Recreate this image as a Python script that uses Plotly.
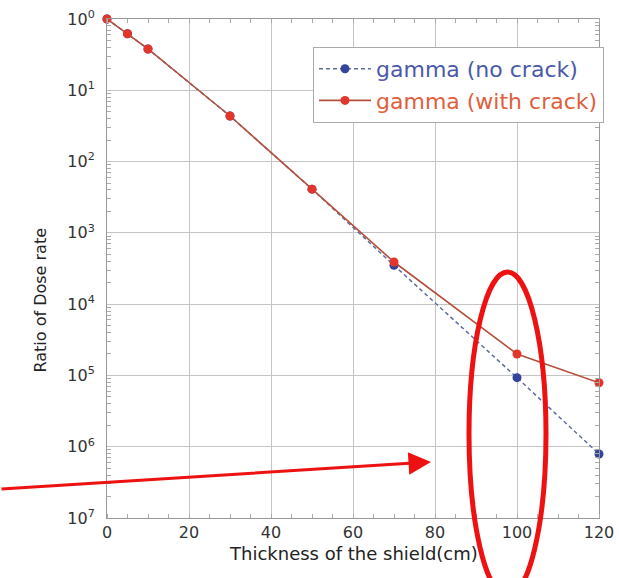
import plotly.graph_objects as go

# ---- data ----
thickness_cm = [0, 5, 10, 30, 50, 70, 100, 120]
ratio_no_crack = [1.0, 0.62, 0.38, 0.0436, 0.0041, 3.5e-4, 9.3e-6, 7.9e-7]
ratio_with_crack = [1.0, 0.62, 0.38, 0.0436, 0.0041, 3.9e-4, 2.0e-5, 7.9e-6]

y_tick_vals = [1, 1e-1, 1e-2, 1e-3, 1e-4, 1e-5, 1e-6, 1e-7]
y_tick_text = ["10<sup>0</sup>", "10<sup>1</sup>", "10<sup>2</sup>", "10<sup>3</sup>",
               "10<sup>4</sup>", "10<sup>5</sup>", "10<sup>6</sup>", "10<sup>7</sup>"]
x_tick_vals = [0, 20, 40, 60, 80, 100, 120]
y_minor_vals = [m * 10.0 ** e for e in range(-7, 0) for m in range(2, 10)]

W, H = 619, 578
PLOT_X0, PLOT_X1 = 107, 599      # pixels of x=0 and x=120
PLOT_Y0, PLOT_Y1 = 19, 518       # pixels of 1e0 and 1e-7
L, T = PLOT_X0, PLOT_Y0
PW, PH = PLOT_X1 - PLOT_X0, PLOT_Y1 - PLOT_Y0
R, B = W - L - PW, H - T - PH


def px(x):
    return (x - PLOT_X0) / PW


def py(y):
    return (PLOT_Y1 - y) / PH


FONT = "DejaVu Sans, Arial, sans-serif"

fig = go.Figure()
fig.add_trace(go.Scatter(
    x=thickness_cm, y=ratio_no_crack, mode="lines+markers",
    name='<span style="color:#4a5aa8">gamma (no crack)</span>',
    line=dict(color="#5d6d9e", width=1.5, dash="4px,3px"),
    marker=dict(color="#33449a", size=9),
    cliponaxis=False,
))
fig.add_trace(go.Scatter(
    x=thickness_cm, y=ratio_with_crack, mode="lines+markers",
    name='<span style="color:#e0603c">gamma (with crack)</span>',
    line=dict(color="#b5503e", width=1.6),
    marker=dict(color="#e2352b", size=9),
    cliponaxis=False,
))

fig.update_layout(
    width=W, height=H,
    margin=dict(l=L, r=R, t=T, b=B, autoexpand=False),
    paper_bgcolor="white", plot_bgcolor="white",
    font=dict(family=FONT, color="#333333"),
    showlegend=True,
    legend=dict(
        x=px(313), y=py(47), xanchor="left", yanchor="top",
        bgcolor="white", bordercolor="#aaaaaa", borderwidth=1,
        font=dict(size=22, family=FONT),
        itemwidth=52,
    ),
    xaxis=dict(
        range=[0, 120], tickmode="array", tickvals=x_tick_vals,
        showgrid=True, gridcolor="#c4c4c4", gridwidth=1,
        showline=True, linecolor="#999999", linewidth=1, mirror="allticks",
        ticks="", tickfont=dict(size=16, color="#333333"),
        ticklabeloverflow="allow",
        minor=dict(dtick=5, ticks="inside", ticklen=4, tickcolor="#aaaaaa", showgrid=False),
        zeroline=False, automargin=False,
    ),
    yaxis=dict(
        type="log", range=[-7, 0], tickmode="array",
        tickvals=y_tick_vals, ticktext=y_tick_text,
        showgrid=True, gridcolor="#c4c4c4", gridwidth=1,
        showline=True, linecolor="#999999", linewidth=1, mirror="allticks",
        ticks="", tickfont=dict(size=16, color="#333333"),
        ticklabelstandoff=8, ticklabeloverflow="allow",
        minor=dict(tickmode="array", tickvals=y_minor_vals, ticks="inside", ticklen=4,
                   tickcolor="#aaaaaa", showgrid=False),
        zeroline=False, automargin=False,
    ),
    annotations=[
        dict(text="Thickness of the shield(cm)", xref="paper", yref="paper",
             x=px(353), y=py(566), showarrow=False, font=dict(size=18, color="#222222")),
        dict(text="Ratio of Dose rate", xref="paper", yref="paper",
             x=px(28), y=py(300), textangle=-90, showarrow=False,
             font=dict(size=16, color="#222222")),
        dict(text="", xref="paper", yref="paper", x=px(431), y=py(462),
             ax=-440, ay=27, showarrow=True, arrowhead=2, arrowsize=1.5,
             arrowwidth=3, arrowcolor="#ee1111"),
    ],
    shapes=[
        dict(type="circle", xref="paper", yref="paper",
             x0=px(469), x1=px(546), y0=py(596), y1=py(272),
             line=dict(color="#ee1111", width=5)),
    ],
)

fig.write_html(
    "out.html",
    config={"displayModeBar": False},
    post_script="document.body.style.margin='0';document.body.style.overflow='hidden';",
)
